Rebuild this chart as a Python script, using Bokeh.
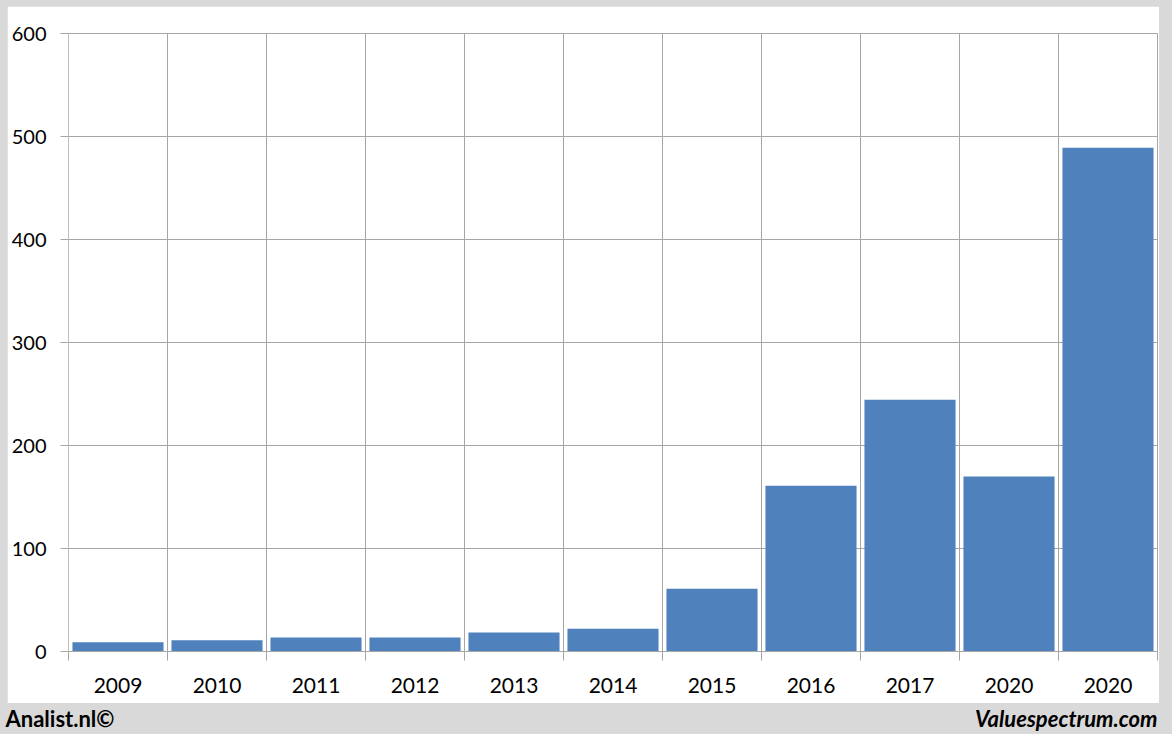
from bokeh.plotting import figure
from bokeh.models import FixedTicker, Range1d, Spacer, Label
from bokeh.layouts import column, row
from bokeh.embed import file_html
from bokeh.resources import INLINE

years = ["2009", "2010", "2011", "2012", "2013", "2014", "2015", "2016", "2017", "2020", "2020"]
amounts = [9, 11, 13.5, 13.5, 18.5, 22, 61, 161, 244.5, 170, 489]
y_ticks = [0, 100, 200, 300, 400, 500, 600]

GRID = "#a6a6a6"
FRAME_GRAY = "#d9d9d9"
BAR = "#4f81bd"
FONT = "Lato"

n = len(years)
xs = list(range(n))
bounds = [i - 0.5 for i in range(n + 1)]

p = figure(width=1152, height=697, output_backend="svg", toolbar_location=None, title=None,
           x_range=Range1d(-0.5, n - 0.5), y_range=Range1d(0, 600),
           min_border_left=61, min_border_right=2, min_border_top=27, min_border_bottom=52,
           border_fill_color="white", background_fill_color="white",
           outline_line_color=GRID)

p.vbar(x=xs, top=amounts, width=0.92, fill_color=BAR, line_color=None)

# y axis
p.yaxis.ticker = FixedTicker(ticks=y_ticks)
p.yaxis.major_tick_out = 8
p.yaxis.major_tick_in = 0
p.yaxis.minor_tick_line_color = None
p.yaxis.major_tick_line_color = GRID
p.yaxis.axis_line_color = "#c0c0c0"
p.yaxis.major_label_standoff = 14
p.yaxis.major_label_text_font = FONT
p.yaxis.major_label_text_font_size = "20px"
p.yaxis.major_label_text_color = "black"

# x axis
p.xaxis.ticker = FixedTicker(ticks=xs, minor_ticks=bounds)
p.xaxis.major_label_overrides = {i: years[i] for i in xs}
p.xaxis.major_tick_out = 0
p.xaxis.major_tick_in = 0
p.xaxis.major_tick_line_color = None
p.xaxis.minor_tick_out = 9
p.xaxis.minor_tick_in = 0
p.xaxis.minor_tick_line_color = GRID
p.xaxis.axis_line_color = GRID
p.xaxis.major_label_standoff = 17
p.xaxis.major_label_text_font = FONT
p.xaxis.major_label_text_font_size = "21px"
p.xaxis.major_label_text_color = "black"

p.xgrid.ticker = FixedTicker(ticks=bounds)
p.ygrid.ticker = FixedTicker(ticks=y_ticks)
p.grid.grid_line_color = GRID
p.grid.grid_line_width = 1

gray = {"background-color": FRAME_GRAY}
top_strip = Spacer(width=1172, height=6, styles=gray)
left_strip = Spacer(width=7, height=697, styles=gray)
right_strip = Spacer(width=13, height=697, styles=gray)

footer = figure(width=1172, height=31, output_backend="svg", toolbar_location=None, title=None,
                x_range=Range1d(0, 1172), y_range=Range1d(0, 31),
                min_border=0, border_fill_color=FRAME_GRAY, background_fill_color=FRAME_GRAY,
                outline_line_color=None)
footer.axis.visible = False
footer.grid.visible = False
footer.add_layout(Label(x=5, y=16, text="Analist.nl©", text_font=FONT, text_font_style="bold",
                        text_font_size="22px", text_color="black", text_baseline="alphabetic"))
footer.add_layout(Label(x=1157, y=16, text="Valuespectrum.com", text_font=FONT,
                        text_font_style="bold italic", text_font_size="22px", text_color="black",
                        text_align="right", text_baseline="alphabetic"))

layout = column(top_strip, row(left_strip, p, right_strip), footer, styles=gray)
open("out.html", "w").write(file_html(layout, INLINE))
